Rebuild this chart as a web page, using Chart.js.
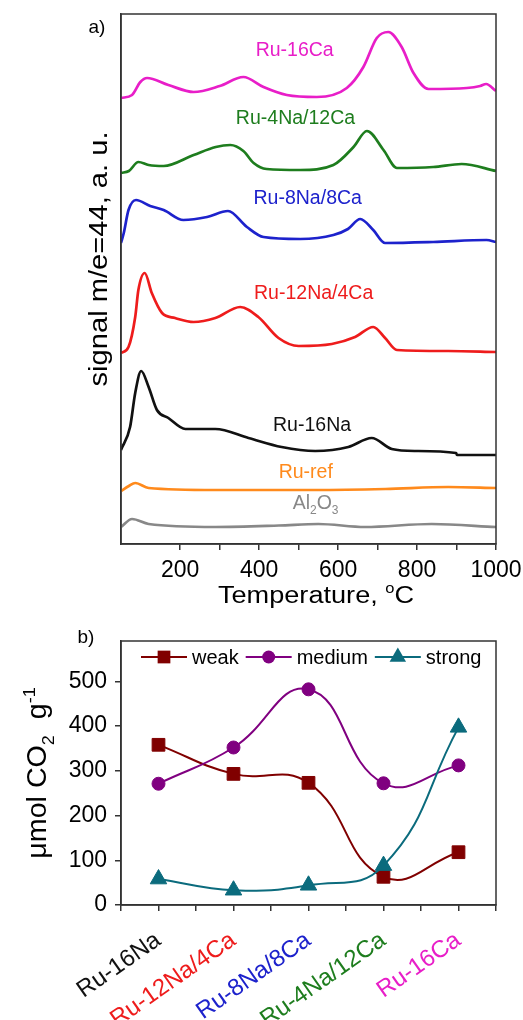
<!DOCTYPE html>
<html>
<head>
<meta charset="utf-8">
<title>TPD CO2</title>
<script src="https://cdn.jsdelivr.net/npm/chart.js@4.4.1/dist/chart.umd.min.js"></script>
<style>
  html, body { margin: 0; padding: 0; background: #fff; }
  #wrap { position: relative; width: 523px; height: 1020px; overflow: hidden; }
  #tpd-box { position: absolute; left: 0; top: 0; width: 523px; height: 615px; }
  #basic-box { position: absolute; left: 0; top: 615px; width: 523px; height: 405px; }
</style>
</head>
<body>
<div id="wrap">
  <div id="tpd-box"><canvas id="tpd-chart"></canvas></div>
  <div id="basic-box"><canvas id="basic-chart"></canvas></div>
</div>
<script>
// Panel a) perfiles TPD de CO2 (señal desplazada, unidades arbitrarias)
const tempRu16Ca = [50, 78, 99, 116, 170, 234, 300, 360, 411, 470, 546, 622, 664, 698, 727, 761, 791, 829, 926, 960, 975, 1000];
const signalRu16Ca = [446, 449, 462, 466, 459, 452, 458, 467, 457, 449, 447, 456, 477, 506, 512, 497, 471, 455, 456, 458, 460, 453];

const tempRu4Na12Ca = [50, 70, 94, 120, 158, 234, 290, 327, 360, 386, 419, 504, 588, 639, 673, 715, 749, 841, 913, 1000];
const signalRu4Na12Ca = [371, 373, 382, 379, 378, 389, 397, 399, 393, 381, 375, 374, 379, 397, 413, 394, 376, 377, 380, 373];

const tempRu8Na8Ca = [50, 57, 69, 88, 124, 158, 208, 268, 321, 369, 411, 504, 588, 625, 656, 689, 719, 841, 976, 1000];
const signalRu8Na8Ca = [301, 311, 334, 344, 338, 334, 324, 327, 333, 317, 307, 305, 309, 315, 325, 314, 301, 302, 304, 302];

const tempRu12Na4Ca = [50, 69, 86, 94, 110, 128, 154, 187, 234, 289, 352, 398, 449, 500, 584, 643, 689, 719, 749, 879, 1000];
const signalRu12Na4Ca = [191, 197, 227, 254, 271, 251, 231, 226, 222, 226, 237, 227, 206, 198, 200, 207, 217, 206, 194, 193, 192];

const tempRu16Na = [50, 73, 86, 101, 120, 141, 170, 213, 289, 373, 457, 542, 626, 685, 736, 795, 899, 901, 1000];
const signalRu16Na = [94, 117, 151, 173, 157, 134, 126, 115, 115, 106, 97, 93, 97, 106, 95, 93, 91, 89, 89];

const tempRuRef = [50, 70, 86, 120, 289, 542, 720, 879, 1000];
const signalRuRef = [53, 58, 61, 56, 54, 54, 55, 57, 56];

const tempAl2O3 = [50, 78, 120, 289, 450, 550, 668, 837, 1000];
const signalAl2O3 = [17, 25, 20, 17, 18.5, 20, 17, 20, 17];

const tempTickLabels = [200, 400, 600, 800, 1000];

// Panel b) cantidad de sitios básicos
const catalysts = ['Ru-16Na', 'Ru-12Na/4Ca', 'Ru-8Na/8Ca', 'Ru-4Na/12Ca', 'Ru-16Ca'];
const weakSites = [358, 293, 273, 63, 118];
const mediumSites = [271, 352, 482, 272, 312];
const strongSites = [58, 33, 44, 88, 397];
const basicityTickLabels = [0, 100, 200, 300, 400, 500];

// Colores
const catalystColors = ['#111111', '#ee1c1c', '#1d22cc', '#1e7d1e', '#e81ec8'];
const weakColor = '#800000';
const mediumColor = '#800080';
const strongColor = '#0b6b7d';
const FONT = '"Liberation Sans", Arial, sans-serif';

Chart.defaults.font.family = FONT;
Chart.defaults.color = '#000';

function toPoints(xs, ys) {
    return xs.map((x, i) => ({ x: x, y: ys[i] }));
}

// Texto con subíndices / superíndices
function richText(ctx, parts, x, y, size, color, angle, stretch) {
    ctx.save();
    ctx.translate(x, y);
    ctx.rotate(angle || 0);
    ctx.scale(stretch || 1, 1);
    ctx.fillStyle = color;
    ctx.textAlign = 'left';
    ctx.textBaseline = 'alphabetic';
    const fontOf = p => `${(p.sub || p.sup) ? Math.round(size * 0.62) : size}px ${FONT}`;
    let total = 0;
    parts.forEach(p => { ctx.font = fontOf(p); total += ctx.measureText(p.t).width; });
    let cx = -total / 2;
    parts.forEach(p => {
        ctx.font = fontOf(p);
        const dy = p.sub ? size * 0.28 : (p.sup ? -size * 0.42 : 0);
        ctx.fillText(p.t, cx, dy);
        cx += ctx.measureText(p.t).width;
    });
    ctx.restore();
}

function drawMarker(ctx, style, x, y, r, color) {
    ctx.save();
    ctx.fillStyle = color;
    ctx.beginPath();
    if (style === 'rect') {
        const s = r * Math.SQRT1_2;
        ctx.rect(x - s, y - s, 2 * s, 2 * s);
    } else if (style === 'triangle') {
        ctx.moveTo(x, y - r);
        ctx.lineTo(x + r * Math.sin(2 * Math.PI / 3), y - r * Math.cos(2 * Math.PI / 3));
        ctx.lineTo(x + r * Math.sin(4 * Math.PI / 3), y - r * Math.cos(4 * Math.PI / 3));
        ctx.closePath();
    } else {
        ctx.arc(x, y, r, 0, Math.PI * 2);
    }
    ctx.fill();
    ctx.restore();
}

function drawFrame(chart) {
    const a = chart.chartArea;
    const ctx = chart.ctx;
    ctx.save();
    ctx.strokeStyle = '#333';
    ctx.lineWidth = 1.5;
    ctx.strokeRect(a.left, a.top, a.right - a.left, a.bottom - a.top);
    ctx.restore();
}

// el eje x no debe reservar espacio extra para la última etiqueta
function fixXAxis(height) {
    return s => {
        s.height = height;
        s.paddingLeft = 0;
        s.paddingRight = 0;
    };
}

// Etiquetas de cada curva (en coordenadas de datos)
const curveLabels = [
    { parts: [{ t: 'Ru-16Ca' }], t: 490, v: 495, color: catalystColors[4] },
    { parts: [{ t: 'Ru-4Na/12Ca' }], t: 492, v: 427, color: catalystColors[3] },
    { parts: [{ t: 'Ru-8Na/8Ca' }], t: 523, v: 347, color: catalystColors[2] },
    { parts: [{ t: 'Ru-12Na/4Ca' }], t: 538, v: 252, color: catalystColors[1] },
    { parts: [{ t: 'Ru-16Na' }], t: 534, v: 120, color: catalystColors[0] },
    { parts: [{ t: 'Ru-ref' }], t: 518, v: 73, color: '#ff8a1c' },
    { parts: [{ t: 'Al' }, { t: '2', sub: true }, { t: 'O' }, { t: '3', sub: true }], t: 543, v: 42, color: '#888888' }
];

const tpdDecor = {
    id: 'tpdDecor',
    afterDraw(chart) {
        const ctx = chart.ctx;
        const sx = chart.scales.x;
        const sy = chart.scales.y;
        drawFrame(chart);
        curveLabels.forEach(l => {
            richText(ctx, l.parts, sx.getPixelForValue(l.t), sy.getPixelForValue(l.v) + 7, 19.5, l.color);
        });
        // títulos de ejes
        richText(ctx, [{ t: 'signal m/e=44, a. u.' }], 107, 259, 26, '#000', -Math.PI / 2, 1.12);
        richText(ctx, [{ t: 'Temperature, ' }, { t: 'o', sup: true }, { t: 'C' }], 316, 603, 23, '#000', 0, 1.18);
        richText(ctx, [{ t: 'a)' }], 97, 33, 19, '#000');
    }
};

const tpdCurves = [
    { label: 'Ru-16Ca', data: toPoints(tempRu16Ca, signalRu16Ca), borderColor: catalystColors[4] },
    { label: 'Ru-4Na/12Ca', data: toPoints(tempRu4Na12Ca, signalRu4Na12Ca), borderColor: catalystColors[3] },
    { label: 'Ru-8Na/8Ca', data: toPoints(tempRu8Na8Ca, signalRu8Na8Ca), borderColor: catalystColors[2] },
    { label: 'Ru-12Na/4Ca', data: toPoints(tempRu12Na4Ca, signalRu12Na4Ca), borderColor: catalystColors[1] },
    { label: 'Ru-16Na', data: toPoints(tempRu16Na, signalRu16Na), borderColor: catalystColors[0] },
    { label: 'Ru-ref', data: toPoints(tempRuRef, signalRuRef), borderColor: '#ff8a1c' },
    { label: 'Al2O3', data: toPoints(tempAl2O3, signalAl2O3), borderColor: '#888888' }
];

new Chart(document.getElementById('tpd-chart'), {
    type: 'line',
    data: {
        datasets: tpdCurves.map(c => Object.assign(c, {
            borderWidth: 2.7,
            pointRadius: 0,
            cubicInterpolationMode: 'monotone',
            fill: false
        }))
    },
    options: {
        responsive: true,
        maintainAspectRatio: false,
        animation: false,
        devicePixelRatio: 1,
        layout: { padding: { left: 0, top: 14, right: 27, bottom: 0 } },
        plugins: { legend: { display: false }, tooltip: { enabled: false } },
        scales: {
            x: {
                type: 'linear',
                min: 50,
                max: 1000,
                ticks: {
                    stepSize: 100,
                    padding: 7,
                    font: { size: 23 },
                    maxRotation: 0,
                    autoSkip: false,
                    callback: v => tempTickLabels.includes(v) ? String(v) : ''
                },
                afterBuildTicks: s => { s.ticks = s.ticks.filter(t => t.value % 100 === 0); },
                afterFit: fixXAxis(71),
                grid: { drawOnChartArea: false, drawTicks: true, tickLength: 6, color: '#333', lineWidth: 1.5 },
                border: { display: true, color: '#333', width: 1.5 }
            },
            y: {
                min: 0,
                max: 530,
                ticks: { display: false },
                grid: { display: false },
                afterFit: s => { s.width = 121; },
                border: { display: true, color: '#333', width: 1.5 }
            }
        }
    },
    plugins: [tpdDecor]
});

// Panel b)
const legendItems = [
    { text: 'weak', color: weakColor, style: 'rect', r: 9 },
    { text: 'medium', color: mediumColor, style: 'circle', r: 6.5 },
    { text: 'strong', color: strongColor, style: 'triangle', r: 9.5 }
];

const basicDecor = {
    id: 'basicDecor',
    afterDraw(chart) {
        const ctx = chart.ctx;
        const a = chart.chartArea;
        drawFrame(chart);
        // leyenda: línea + símbolo + texto
        let x = a.left + 20;
        const y = a.top + 16;
        ctx.save();
        ctx.font = `20px ${FONT}`;
        legendItems.forEach(item => {
            ctx.strokeStyle = item.color;
            ctx.lineWidth = 2;
            ctx.beginPath();
            ctx.moveTo(x, y);
            ctx.lineTo(x + 46, y);
            ctx.stroke();
            drawMarker(ctx, item.style, x + 23, y, item.r, item.color);
            ctx.fillStyle = '#000';
            ctx.textAlign = 'left';
            ctx.textBaseline = 'middle';
            ctx.fillText(item.text, x + 51, y + 1);
            x += 51 + ctx.measureText(item.text).width + 7;
        });
        ctx.restore();
        richText(ctx, [{ t: '\u03bcmol CO' }, { t: '2', sub: true }, { t: '  g' }, { t: '-1', sup: true }],
            46, (a.top + a.bottom) / 2, 27, '#000', -Math.PI / 2, 1.06);
        richText(ctx, [{ t: 'b)' }], 86, 28, 19, '#000');
    }
};

new Chart(document.getElementById('basic-chart'), {
    type: 'line',
    data: {
        datasets: [
            {
                label: 'weak',
                data: toPoints([0, 1, 2, 3, 4], weakSites),
                borderColor: weakColor,
                backgroundColor: weakColor,
                pointStyle: 'rect',
                pointRadius: 9,
                order: 2
            },
            {
                label: 'medium',
                data: toPoints([0, 1, 2, 3, 4], mediumSites),
                borderColor: mediumColor,
                backgroundColor: mediumColor,
                pointStyle: 'circle',
                pointRadius: 6.5,
                order: 1
            },
            {
                label: 'strong',
                data: toPoints([0, 1, 2, 3, 4], strongSites),
                borderColor: strongColor,
                backgroundColor: strongColor,
                pointStyle: 'triangle',
                pointRadius: 9.5,
                order: 0
            }
        ].map(d => Object.assign(d, { borderWidth: 2, tension: 0.45, pointBorderWidth: 1, pointBorderColor: d.borderColor }))
    },
    options: {
        responsive: true,
        maintainAspectRatio: false,
        animation: false,
        devicePixelRatio: 1,
        layout: { padding: { left: 0, top: 26, right: 27, bottom: 0 } },
        plugins: { legend: { display: false }, tooltip: { enabled: false } },
        scales: {
            x: {
                type: 'linear',
                min: -0.5,
                max: 4.5,
                ticks: {
                    stepSize: 0.5,
                    autoSkip: false,
                    minRotation: 35,
                    maxRotation: 35,
                    padding: 15,
                    font: { size: 24 },
                    color: c => Number.isInteger(c.tick.value) ? catalystColors[c.tick.value] : '#000',
                    callback: v => Number.isInteger(v) ? catalysts[v] : ''
                },
                afterBuildTicks: s => { s.ticks = s.ticks.filter(t => Math.abs(t.value * 2 - Math.round(t.value * 2)) < 1e-9); },
                afterFit: fixXAxis(115),
                grid: { drawOnChartArea: false, drawTicks: true, tickLength: 6, color: '#333', lineWidth: 1.5 },
                border: { display: true, color: '#333', width: 1.5 }
            },
            y: {
                min: 0,
                max: 590,
                ticks: {
                    stepSize: 50,
                    padding: 8,
                    font: { size: 23 },
                    callback: v => basicityTickLabels.includes(v) ? String(v) : ''
                },
                afterBuildTicks: s => { s.ticks = s.ticks.filter(t => t.value % 50 === 0); },
                afterFit: s => { s.width = 121; },
                grid: { drawOnChartArea: false, drawTicks: true, tickLength: 6, color: '#333', lineWidth: 1.5 },
                border: { display: true, color: '#333', width: 1.5 }
            }
        }
    },
    plugins: [basicDecor]
});
</script>
</body>
</html>
